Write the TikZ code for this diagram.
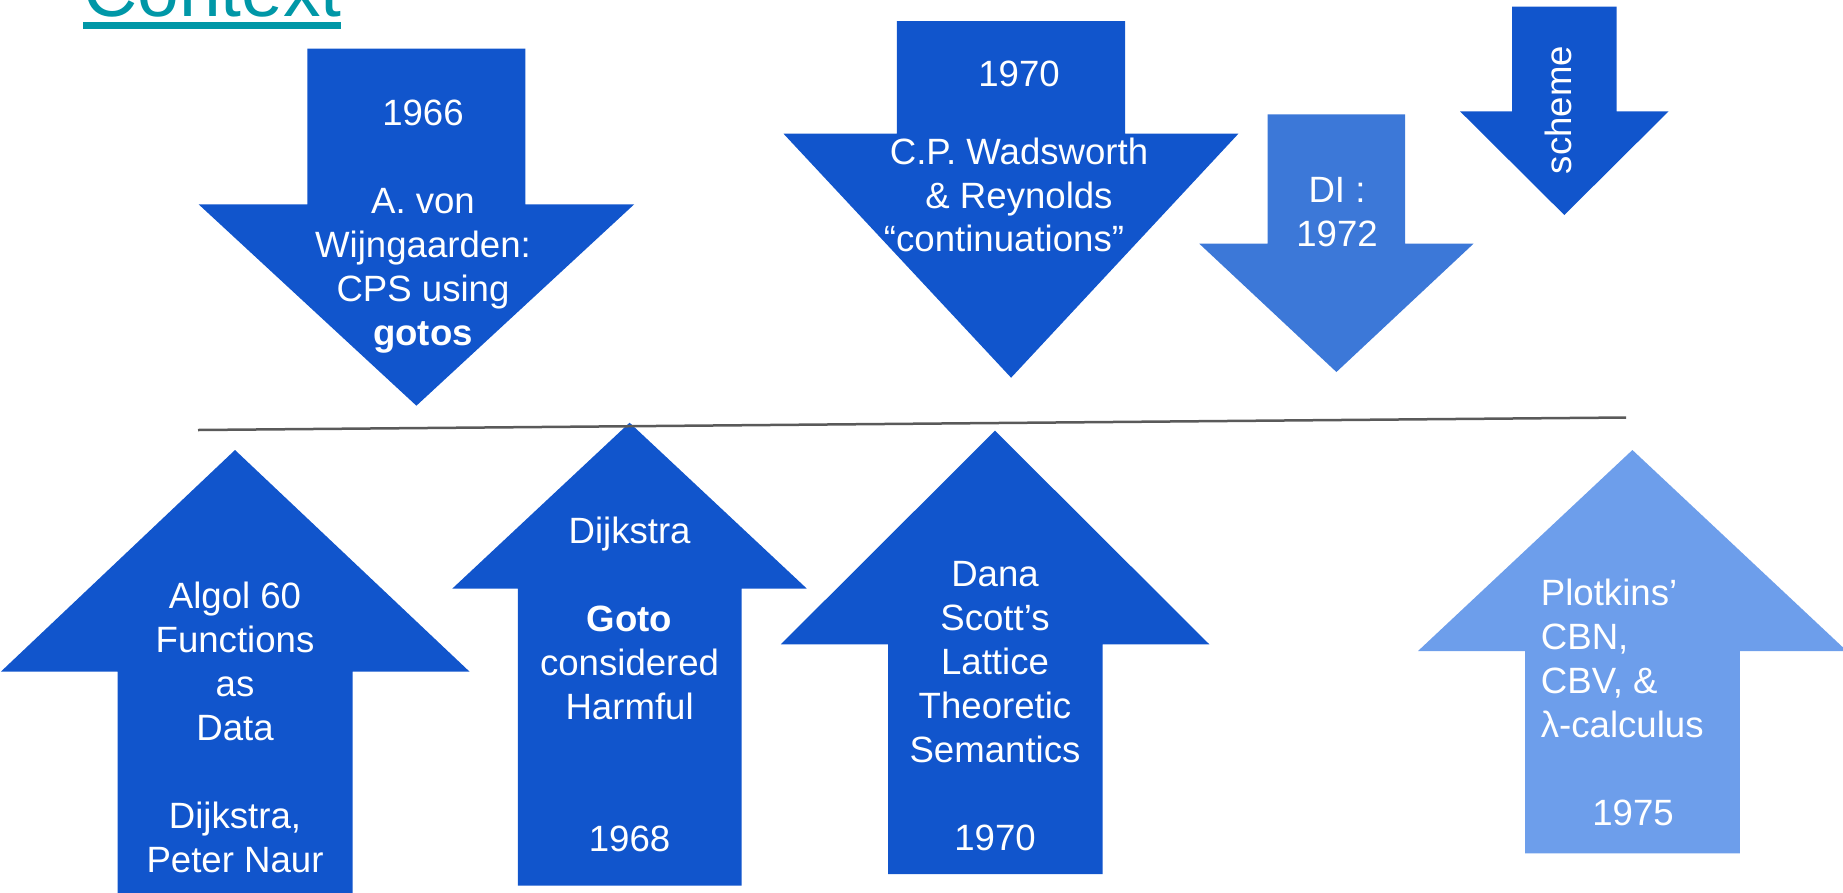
\documentclass[tikz,border=0pt]{standalone}
\usepackage{fontspec}
\setmainfont{Liberation Sans}
\definecolor{dkblue}{HTML}{1155CC}
\definecolor{mdblue}{HTML}{3C78D8}
\definecolor{ltblue}{HTML}{6D9EEB}
\definecolor{titleteal}{HTML}{0097A7}
\definecolor{linegray}{HTML}{5A5A5A}
\newcommand\mylines[1]{\begin{tabular}[t]{@{}c@{}}#1\end{tabular}}
\newcommand\mylinesl[1]{\begin{tabular}[t]{@{}l@{}}#1\end{tabular}}
\begin{document}
\begin{tikzpicture}[x=1pt,y=-1pt,
  arrowtext/.style={text=white,inner sep=0pt,anchor=base,font=\fontsize{36.6}{44}\selectfont},
  sepline/.style={draw=linegray,line width=2.5pt}]
\useasboundingbox (0,0) rectangle (1843,892);

% title
\node[anchor=base west,inner sep=0pt,text=titleteal,font=\fontsize{75}{90}\selectfont] (title) at (83,16.5) {Context};
\fill[titleteal] (83,22.3) rectangle (341,29);

% down arrows
\fill[dkblue] (307.3,48.7) -- (525.4,48.7) -- (525.4,204.3) -- (634.2,204.3) -- (416.4,405.7) -- (198.6,204.3) -- (307.3,204.3) -- cycle;
\fill[dkblue] (896.9,21) -- (1125,21) -- (1125,133.7) -- (1238.4,133.7) -- (1011.1,377.7) -- (783.5,133.7) -- (896.9,133.7) -- cycle;
\fill[mdblue] (1267.7,114.3) -- (1405,114.3) -- (1405,243.7) -- (1473.5,243.7) -- (1336.4,372) -- (1199.3,243.7) -- (1267.7,243.7) -- cycle;
\fill[dkblue] (1512,6.7) -- (1616.6,6.7) -- (1616.6,111.3) -- (1668.6,111.3) -- (1564.3,215) -- (1460,111.3) -- (1512,111.3) -- cycle;

% up arrows
\fill[dkblue] (235,450) -- (469.6,671.7) -- (352.5,671.7) -- (352.5,900) -- (117.5,900) -- (117.5,671.7) -- (0.8,671.7) -- cycle;
\fill[dkblue] (629.6,422.7) -- (806.7,588.5) -- (741.5,588.5) -- (741.5,885.7) -- (517.8,885.7) -- (517.8,588.5) -- (452.4,588.5) -- cycle;
\fill[dkblue] (995,430.7) -- (1209.3,644.3) -- (1102.6,644.3) -- (1102.6,874) -- (888,874) -- (888,644.3) -- (780.8,644.3) -- cycle;
\fill[ltblue] (1632.4,450) -- (1846.8,651) -- (1739.8,651) -- (1739.8,853.3) -- (1525,853.3) -- (1525,651) -- (1418,651) -- cycle;

% separator line
\coordinate (lineL) at (198,430);
\coordinate (lineR) at (1626,417.5);
\draw[sepline] (lineL) -- (lineR);

% texts
\node[arrowtext] (tA) at (423,125) {\mylines{1966\\ \\A. von\\Wijngaarden:\\CPS using\\\textbf{gotos}}};
\node[arrowtext] (tB) at (1019,86) {\mylines{1970\\[34.3pt]C.P. Wadsworth\\\& Reynolds}};
\node[arrowtext] (tB2) at (1004,251.7) {“continuations”};
\node[arrowtext] (tC) at (1337,202.7) {\mylines{DI :\\1972}};
\node[arrowtext,rotate=90] (tD) at (1571,110) {scheme};
\node[arrowtext] (tE) at (235,608.3) {\mylines{Algol 60\\Functions\\as\\Data\\ \\Dijkstra,\\Peter Naur}};
\node[arrowtext] (tF) at (629.6,543.3) {\mylines{Dijkstra\\ \\\textbf{Goto}\\considered\\Harmful\\ \\ \\1968}};
\node[arrowtext] (tG) at (995,586.7) {\mylines{Dana\\Scott’s\\Lattice\\Theoretic\\Semantics\\ \\1970}};
\node[arrowtext,anchor=base west] (tH) at (1540.7,605) {\mylinesl{Plotkins’\\CBN,\\CBV, \&\\λ-calculus}};
\node[arrowtext] (tH2) at (1633,825) {1975};
\end{tikzpicture}
\end{document}
